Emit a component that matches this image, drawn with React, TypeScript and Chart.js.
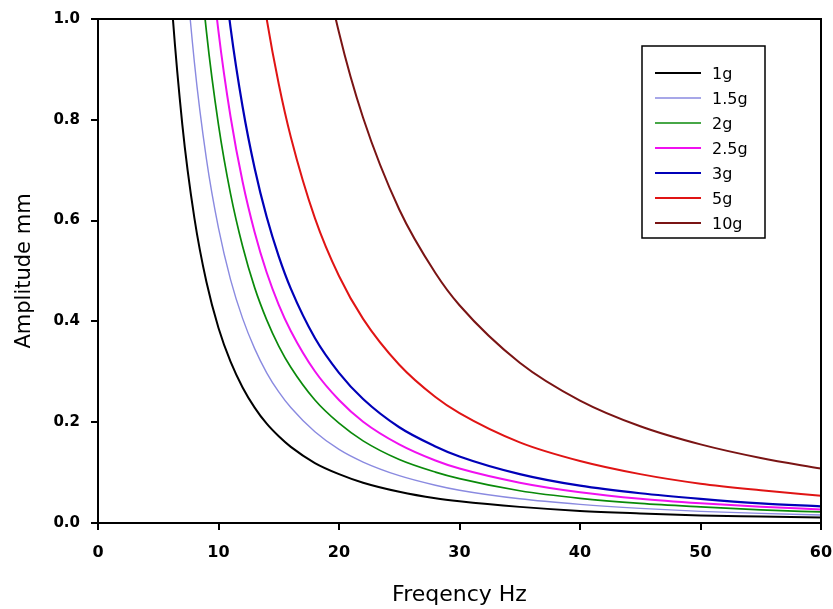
import React, { useEffect, useRef } from "react";
import { Chart, registerables } from "chart.js";

Chart.register(...registerables);

// Frequency grid (Hz)
const FREQ = [5, 6, 7, 8, 9, 10, 11, 12, 13, 14, 15, 16, 18, 20, 22, 25, 28, 30, 35, 40, 45, 50, 55, 60];

// Amplitude (mm); null = off the top of the plot
const AMP_1G = [1.548, 1.075, 0.79, 0.605, 0.478, 0.387, 0.32, 0.269, 0.229, 0.197, 0.172, 0.151, 0.119, 0.097, 0.08, 0.062, 0.049, 0.043, 0.032, 0.024, 0.019, 0.015, 0.013, 0.011];
const AMP_1_5G = [null, 1.625, 1.194, 0.914, 0.722, 0.585, 0.483, 0.406, 0.346, 0.298, 0.26, 0.229, 0.181, 0.146, 0.121, 0.094, 0.075, 0.065, 0.048, 0.037, 0.029, 0.023, 0.019, 0.016];
const AMP_2G = [null, null, 1.612, 1.234, 0.975, 0.79, 0.653, 0.549, 0.467, 0.403, 0.351, 0.309, 0.244, 0.198, 0.163, 0.126, 0.101, 0.088, 0.064, 0.049, 0.039, 0.032, 0.026, 0.022];
const AMP_2_5G = [null, null, 1.99, 1.523, 1.204, 0.975, 0.806, 0.677, 0.577, 0.497, 0.433, 0.381, 0.301, 0.244, 0.201, 0.156, 0.124, 0.108, 0.08, 0.061, 0.048, 0.039, 0.032, 0.027];
const AMP_3G = [null, null, null, 1.859, 1.469, 1.19, 0.983, 0.826, 0.704, 0.607, 0.529, 0.465, 0.367, 0.298, 0.246, 0.19, 0.152, 0.132, 0.097, 0.074, 0.059, 0.048, 0.039, 0.033];
const AMP_5G = [null, null, null, null, null, 1.96, 1.62, 1.361, 1.16, 1.0, 0.871, 0.766, 0.605, 0.49, 0.405, 0.314, 0.25, 0.218, 0.16, 0.123, 0.097, 0.078, 0.065, 0.054];
const AMP_10G = [null, null, null, null, null, null, null, null, null, 1.985, 1.729, 1.52, 1.201, 0.973, 0.804, 0.622, 0.496, 0.432, 0.318, 0.243, 0.192, 0.156, 0.129, 0.108];

const SERIES_LABELS = ["1g", "1.5g", "2g", "2.5g", "3g", "5g", "10g"];
const SERIES_VALUES = [AMP_1G, AMP_1_5G, AMP_2G, AMP_2_5G, AMP_3G, AMP_5G, AMP_10G];
const SERIES_COLORS = ["#000000", "#8a8ae0", "#0a8a0a", "#f010f0", "#0000b8", "#e01414", "#7a1414"];
const SERIES_WIDTHS = [2, 1.4, 1.7, 2, 2.2, 2, 2];

const X_TICKS = [0, 10, 20, 30, 40, 50, 60];
const Y_TICKS = [0, 0.2, 0.4, 0.6, 0.8, 1.0];

const FONT = "'DejaVu Sans', 'Liberation Sans', Arial, sans-serif";

const framePlugin = {
  id: "frameAndLegend",
  afterDraw(chart: any) {
    const { ctx, chartArea } = chart;
    ctx.save();
    ctx.strokeStyle = "#000";
    ctx.lineWidth = 2;
    ctx.strokeRect(chartArea.left, chartArea.top, chartArea.right - chartArea.left, chartArea.bottom - chartArea.top);

    // legend box
    const bx = 642, by = 46, bw = 123, bh = 192;
    ctx.fillStyle = "#fff";
    ctx.fillRect(bx, by, bw, bh);
    ctx.lineWidth = 1.5;
    ctx.strokeRect(bx, by, bw, bh);
    ctx.font = `16px ${FONT}`;
    ctx.textAlign = "left";
    ctx.textBaseline = "middle";
    chart.data.datasets.forEach((ds: any, i: number) => {
      const y = 73 + i * 25;
      ctx.strokeStyle = ds.borderColor;
      ctx.lineWidth = ds.borderWidth;
      ctx.beginPath();
      ctx.moveTo(655, y);
      ctx.lineTo(701, y);
      ctx.stroke();
      ctx.fillStyle = "#000";
      ctx.fillText(ds.label, 712, y + 2);
    });
    ctx.restore();
  },
};

export default function App() {
  const ref = useRef<HTMLCanvasElement | null>(null);

  useEffect(() => {
    if (!ref.current) return;
    const datasets = SERIES_LABELS.map((label, i) => ({
      label,
      data: FREQ.map((f, j) => ({ x: f, y: SERIES_VALUES[i][j] })).filter((p) => p.y !== null),
      borderColor: SERIES_COLORS[i],
      backgroundColor: SERIES_COLORS[i],
      borderWidth: SERIES_WIDTHS[i],
      pointRadius: 0,
      fill: false,
      cubicInterpolationMode: "monotone" as const,
    }));

    const chart = new Chart(ref.current, {
      type: "line",
      data: { datasets },
      options: {
        animation: false,
        responsive: false,
        layout: { padding: { top: 19, right: 12, left: 0, bottom: 0 } },
        plugins: { legend: { display: false }, tooltip: { enabled: false } },
        scales: {
          x: {
            type: "linear",
            min: 0,
            max: 60,
            afterFit: (s: any) => { s.height = 86; s.paddingLeft = 0; s.paddingRight = 0; },
            afterBuildTicks: (s: any) => { s.ticks = X_TICKS.map((v) => ({ value: v })); },
            border: { display: false },
            grid: { drawOnChartArea: false, drawTicks: true, tickLength: 7, color: "#000", lineWidth: 2 },
            ticks: { color: "#000", padding: 13, font: { family: FONT, size: 16, weight: "bold" }, maxRotation: 0 },
            title: { display: true, text: "Freqency Hz", color: "#000", font: { family: FONT, size: 22 }, padding: { top: 0, bottom: 1 } },
          },
          y: {
            type: "linear",
            min: 0,
            max: 1,
            afterFit: (s: any) => { s.width = 98; s.paddingTop = 0; s.paddingBottom = 0; },
            afterBuildTicks: (s: any) => { s.ticks = Y_TICKS.map((v) => ({ value: v })); },
            border: { display: false },
            grid: { drawOnChartArea: false, drawTicks: true, tickLength: 7, color: "#000", lineWidth: 2 },
            ticks: { color: "#000", padding: 11, font: { family: FONT, size: 15, weight: "bold" }, callback: (v: any) => Number(v).toFixed(1) },
            title: { display: true, text: "Amplitude mm", color: "#000", font: { family: FONT, size: 21 }, padding: { top: 12, bottom: 0 } },
          },
        },
      },
      plugins: [framePlugin],
    });
    return () => chart.destroy();
  }, []);

  return (
    <div style={{ position: "fixed", left: 0, top: 0, width: 833, height: 609, background: "#fff" }}>
      <canvas ref={ref} width={833} height={609} style={{ display: "block" }} />
    </div>
  );
}
